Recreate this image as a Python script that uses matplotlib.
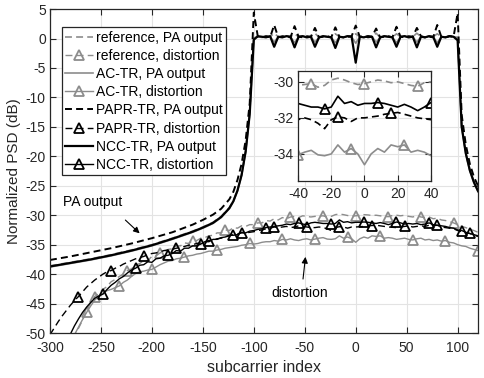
import numpy as np
import matplotlib
matplotlib.use("Agg")
import matplotlib.pyplot as plt

plt.rcParams['font.family'] = ['Liberation Sans', 'DejaVu Sans']
plt.rcParams['lines.scale_dashes'] = False
plt.rcParams['lines.dashed_pattern'] = [5, 3]
plt.rcParams['axes.unicode_minus'] = False

GRAY = '0.55'
DARK = '#262626'

# PA output PSD (dB), sampled on a non-uniform subcarrier grid
pa_x = ([-300, -280, -260, -240, -220, -200, -180, -160, -150, -140,
         -132, -124, -120, -116, -112, -108, -104]
        + list(range(-100, 101, 4))
        + [104, 108, 112, 116, 120])

ref_pa_left = [-38.6, -38.0, -37.4, -36.7, -35.9, -35.0, -33.9, -32.7, -32.0, -31.2,
               -30.2, -28.7, -27.5, -25.7, -23.1, -19.1, -12.7]
ac_pa_left = [-38.8, -38.2, -37.6, -36.9, -36.1, -35.2, -34.1, -32.9, -32.2, -31.4,
              -30.4, -28.9, -27.7, -25.9, -23.3, -19.3, -12.9]
papr_pa_left = [-37.6, -37.0, -36.3, -35.6, -34.8, -33.9, -32.9, -31.6, -30.8, -29.9,
                -28.9, -27.3, -26.0, -24.0, -21.3, -17.3, -11.0]
ncc_pa_left = [-38.7, -38.1, -37.5, -36.8, -36.0, -35.1, -34.0, -32.8, -32.1, -31.3,
               -30.3, -28.8, -27.6, -25.8, -23.2, -19.2, -12.8]

ref_pa_band = [0.2, 0.3, 0.2, 0.4, 0.3, 0.9, 0.3, 0.2, 0.4, 0.3,
               0.8, 0.3, 0.4, 0.2, 0.3, 0.9, 0.2, 0.4, 0.3, 0.2,
               0.8, 0.3, 0.2, 0.4, 0.3, 0.8, 0.3, 0.2, 0.4, 0.3,
               0.9, 0.2, 0.4, 0.3, 0.2, 0.8, 0.3, 0.4, 0.2, 0.3,
               0.9, 0.3, 0.2, 0.4, 0.3, 0.8, 0.3, 0.2, 0.4, 0.3, 0.2]
ac_pa_band = [0.1, 0.3, 0.2, 0.4, 0.3, -0.6, 0.3, 0.2, 0.4, 0.3,
              -0.7, 0.3, 0.4, 0.2, 0.3, -0.6, 0.2, 0.4, 0.3, 0.2,
              -0.7, 0.3, 0.2, 0.4, 0.3, -0.8, 0.3, 0.2, 0.4, 0.3,
              -0.6, 0.2, 0.4, 0.3, 0.2, -0.7, 0.3, 0.4, 0.2, 0.3,
              -0.6, 0.3, 0.2, 0.4, 0.3, -0.7, 0.3, 0.2, 0.4, 0.3, 0.1]
papr_pa_band = [4.4, 0.3, 0.2, 0.4, 0.2, 2.3, 0.2, 0.4, 0.3, 0.2,
                2.1, 0.3, 0.2, 0.4, 0.3, 1.8, 0.2, 0.3, 0.4, 0.2,
                1.9, 0.3, 0.2, 0.3, 0.4, 2.2, 0.3, 0.4, 0.2, 0.3,
                1.7, 0.2, 0.3, 0.4, 0.2, 2.0, 0.3, 0.2, 0.4, 0.3,
                1.8, 0.4, 0.2, 0.3, 0.2, 2.3, 0.3, 0.2, 0.4, 0.3, 4.3]
ncc_pa_band = [-0.2, 0.4, 0.3, 0.2, 0.4, -1.4, 0.3, 0.2, 0.4, 0.3,
               -1.5, 0.3, 0.4, 0.2, 0.3, -1.4, 0.2, 0.4, 0.3, 0.2,
               -1.6, 0.3, 0.2, 0.4, 0.3, -4.1, 0.3, 0.2, 0.4, 0.3,
               -1.5, 0.2, 0.4, 0.3, 0.2, -1.4, 0.3, 0.4, 0.2, 0.3,
               -1.5, 0.3, 0.2, 0.4, 0.3, -1.4, 0.3, 0.2, 0.4, 0.3, -0.3]

ref_pa_right = [-14.9, -19.4, -22.3, -24.3, -25.8]
ac_pa_right = [-15.1, -19.6, -22.5, -24.5, -26.0]
papr_pa_right = [-13.0, -18.0, -21.3, -23.5, -25.0]
ncc_pa_right = [-15.0, -19.5, -22.4, -24.4, -25.9]

# distortion PSD (dB), every 4th subcarrier from -300 to 120
dist_x = np.arange(-300, 121, 4)

ref_dist = [-59.0, -58.0, -57.0, -56.0, -54.0, -52.0, -50.5, -49.2, -47.8, -46.2,
            -44.9, -43.8, -43.3, -42.6, -42.1, -41.3, -40.9, -40.4, -40.0, -39.4,
            -39.1, -38.5, -38.2, -37.7, -37.7, -37.0, -36.9, -36.4, -36.2, -35.8,
            -35.7, -35.2, -35.2, -34.7, -34.8, -34.3, -34.3, -33.9, -33.8, -33.5,
            -33.4, -33.0, -33.0, -32.5, -32.6, -32.1, -32.2, -31.8, -31.9, -31.6,
            -31.6, -31.3, -31.3, -30.9, -31.0, -30.6, -30.8, -30.4, -30.6, -30.3,
            -30.2, -30.4, -30.1, -30.2, -30.3, -30.2, -30.15, -30.1, -30.3, -30.2,
            -29.9, -29.8, -29.9, -30.05, -30.15, -30.1, -30.0, -29.9, -29.95, -30.05,
            -30.0, -30.1, -30.2, -30.25, -30.05, -30.0, -30.1, -30.0, -30.2, -30.3,
            -30.1, -30.3, -30.4, -30.3, -30.6, -30.5, -30.8, -30.9, -31.1, -31.3,
            -31.6, -31.9, -32.1, -32.4, -32.6, -32.9]
ac_dist = [-60.0, -59.0, -58.0, -56.5, -55.0, -52.5, -50.3, -49.0, -47.7, -46.5,
           -45.4, -44.4, -43.8, -43.3, -42.8, -42.6, -42.3, -42.0, -41.4, -41.0,
           -40.4, -39.9, -39.6, -39.5, -39.3, -39.2, -38.8, -38.4, -38.1, -37.8,
           -37.7, -37.4, -37.3, -37.1, -36.9, -36.8, -36.6, -36.5, -36.3, -36.1,
           -36.1, -35.9, -35.8, -35.6, -35.5, -35.4, -35.3, -35.1, -35.0, -34.8,
           -34.9, -34.8, -34.6, -34.5, -34.5, -34.3, -34.4, -34.1, -34.2, -34.0,
           -34.2, -34.3, -34.1, -34.0, -34.2, -34.05, -33.9, -33.8, -34.05, -34.1,
           -34.0, -33.5, -33.9, -33.7, -34.0, -34.6, -34.0, -33.7, -33.9, -33.5,
           -33.6, -33.5, -33.9, -33.8, -33.9, -34.1, -34.0, -33.9, -34.1, -34.2,
           -34.0, -33.9, -34.2, -34.1, -34.3, -34.2, -34.4, -34.3, -34.6, -34.7,
           -35.0, -35.2, -35.3, -35.6, -35.8, -36.0]
papr_dist = [-50.3, -49.2, -48.1, -47.1, -46.2, -45.3, -44.5, -43.8, -43.0, -42.2,
             -41.6, -41.0, -40.5, -40.0, -39.6, -39.4, -39.0, -38.7, -38.3, -38.0,
             -37.7, -37.4, -37.2, -37.0, -36.7, -36.5, -36.4, -36.2, -36.0, -35.9,
             -35.8, -35.6, -35.5, -35.3, -35.1, -35.0, -34.8, -34.7, -34.5, -34.3,
             -34.2, -34.0, -33.9, -33.7, -33.5, -33.3, -33.2, -33.0, -33.0, -32.9,
             -32.8, -32.6, -32.5, -32.3, -32.2, -32.0, -32.1, -32.0, -31.9, -32.1,
             -32.0, -31.8, -31.9, -32.0, -32.1, -32.1, -32.0, -32.1, -32.3, -32.6,
             -32.1, -31.95, -32.0, -32.2, -32.0, -32.0, -31.95, -31.9, -31.8, -31.75,
             -31.7, -31.8, -31.9, -32.0, -32.05, -32.1, -32.0, -31.9, -31.8, -32.0,
             -31.9, -31.8, -31.9, -31.7, -31.8, -31.7, -32.0, -32.1, -32.2, -32.3,
             -32.6, -32.8, -33.0, -33.1, -33.4, -33.6]
ncc_dist = [-56.0, -55.0, -54.0, -53.0, -51.5, -50.2, -48.8, -47.6, -46.5, -45.6,
            -44.8, -44.1, -43.7, -43.4, -42.6, -41.9, -41.4, -40.8, -40.4, -39.8,
            -39.3, -39.0, -38.5, -38.4, -37.9, -38.0, -37.4, -37.3, -36.9, -36.8,
            -36.5, -36.0, -36.1, -35.6, -35.6, -35.2, -35.2, -34.9, -34.5, -34.5,
            -34.1, -34.1, -33.8, -33.7, -33.4, -33.4, -33.3, -32.9, -33.0, -32.7,
            -32.6, -32.4, -32.3, -32.1, -32.0, -31.9, -31.8, -31.7, -31.5, -31.6,
            -31.4, -31.3, -31.5, -31.6, -31.3, -31.2, -31.3, -31.4, -31.4, -31.5,
            -31.4, -30.8, -31.2, -31.1, -31.3, -31.2, -31.2, -31.15, -31.2, -31.3,
            -31.4, -31.25, -31.4, -31.6, -31.4, -31.15, -31.3, -31.5, -31.4, -31.5,
            -31.4, -31.6, -31.5, -31.3, -31.6, -31.7, -31.8, -31.9, -32.1, -32.2,
            -32.5, -32.6, -32.9, -33.1, -33.3, -33.5]

labels = ['reference, PA output', 'reference, distortion',
          'AC-TR, PA output', 'AC-TR, distortion',
          'PAPR-TR, PA output', 'PAPR-TR, distortion',
          'NCC-TR, PA output', 'NCC-TR, distortion']


def draw_dist(ax, lw=1.0, ms=6.5):
    # triangles sit every 32 subcarriers, shifted per scheme
    a, = ax.plot(dist_x, ref_dist, color=GRAY, ls='--', lw=lw, marker='^', ms=ms,
                 mfc='none', mew=1.3, markevery=(3, 8))
    b, = ax.plot(dist_x, ac_dist, color=GRAY, ls='-', lw=lw, marker='^', ms=ms,
                 mfc='none', mew=1.3, markevery=(1, 8))
    c, = ax.plot(dist_x, papr_dist, color='k', ls='--', lw=lw, marker='^', ms=ms,
                 mfc='none', mew=1.3, markevery=(7, 8))
    d, = ax.plot(dist_x, ncc_dist, color='k', ls='-', lw=lw, marker='^', ms=ms,
                 mfc='none', mew=1.3, markevery=(13, 8))
    return a, b, c, d


def style(ax, xpad=4):
    ax.grid(True, color='#e3e3e3', lw=0.8)
    ax.set_axisbelow(True)
    ax.tick_params(direction='in', length=4, width=0.8, colors=DARK,
                   labelsize=10, top=True, right=True, pad=3)
    ax.tick_params(axis='x', pad=xpad)
    for s in ax.spines.values():
        s.set_color(DARK)
        s.set_linewidth(0.9)


fig = plt.figure(figsize=(4.85, 3.78), dpi=100)
ax = fig.add_axes([0.103, 0.119, 0.8826, 0.857])

ref_pa, = ax.plot(pa_x, ref_pa_left + ref_pa_band + ref_pa_right, color=GRAY, ls='--', lw=1.2)
ac_pa, = ax.plot(pa_x, ac_pa_left + ac_pa_band + ac_pa_right, color=GRAY, ls='-', lw=1.2)
papr_pa, = ax.plot(pa_x, papr_pa_left + papr_pa_band + papr_pa_right, color='k', ls='--', lw=1.4)
ncc_pa, = ax.plot(pa_x, ncc_pa_left + ncc_pa_band + ncc_pa_right, color='k', ls='-', lw=1.6)
ref_d, ac_d, papr_d, ncc_d = draw_dist(ax)

ax.set_xlim(-300, 120)
ax.set_ylim(-50, 5)
ax.set_xticks(np.arange(-300, 101, 50))
ax.set_yticks(np.arange(-50, 6, 5))
style(ax, xpad=6)
ax.set_xlabel('subcarrier index', fontsize=11.5, color=DARK, labelpad=3)
ax.set_ylabel('Normalized PSD (dB)', fontsize=11, color=DARK, labelpad=3)

handles = [ref_pa, ref_d, ac_pa, ac_d, papr_pa, papr_d, ncc_pa, ncc_d]
leg = ax.legend(handles=handles, labels=labels, loc='upper left',
                bbox_to_anchor=(0.028, 0.944), borderaxespad=0, fontsize=10,
                frameon=True, fancybox=False, framealpha=1, edgecolor=DARK,
                handlelength=2.0, handletextpad=0.2, labelspacing=0.3,
                borderpad=0.25, numpoints=1)
leg.get_frame().set_linewidth(0.9)

ax.text(-287, -27.8, 'PA output', fontsize=10, va='center', ha='left')
ax.annotate('', xy=(-210, -33.4), xytext=(-228, -30.5),
            arrowprops=dict(arrowstyle='-|>', lw=0.8, color='k', mutation_scale=9))
ax.text(-83, -43.2, 'distortion', fontsize=10, va='center', ha='left')
ax.annotate('', xy=(-49, -36.6), xytext=(-52, -41.3),
            arrowprops=dict(arrowstyle='-|>', lw=0.8, color='k', mutation_scale=9))

# zoomed inset of the in-band distortion
axi = fig.add_axes([0.6144, 0.5212, 0.2742, 0.2910])
draw_dist(axi, lw=1.2, ms=7)
axi.set_xlim(-40, 40)
axi.set_ylim(-35.5, -29.4)
axi.set_xticks([-40, -20, 0, 20, 40])
axi.set_yticks([-34, -32, -30])
style(axi)

fig.savefig('out.png', dpi=100)
